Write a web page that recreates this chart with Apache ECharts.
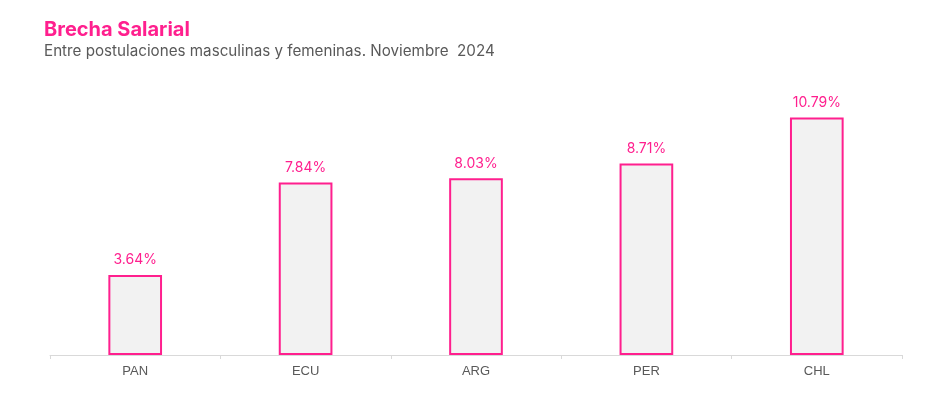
<!DOCTYPE html>
<html>
<head>
<meta charset="utf-8">
<script src="https://cdn.jsdelivr.net/npm/echarts@6/dist/echarts.min.js"></script>
<style>
  html, body { margin: 0; padding: 0; background: #fff; }
  #chart { width: 940px; height: 396px; }
</style>
</head>
<body>
<div id="chart"></div>
<script>
const paises = ["PAN", "ECU", "ARG", "PER", "CHL"];
const brecha = [3.64, 7.84, 8.03, 8.71, 10.79];

const rosa = "#ff1f8e";

const chart = echarts.init(document.getElementById("chart"));

const option = {
  backgroundColor: "#fff",
  title: {
    left: 39,
    top: 15,
    text: "Brecha Salarial",
    subtext: "Entre postulaciones masculinas y femeninas. Noviembre  2024",
    itemGap: 4,
    textStyle: {
      fontFamily: "Inter",
      fontWeight: "bold",
      fontSize: 20,
      color: rosa,
    },
    subtextStyle: {
      fontFamily: "Inter",
      fontSize: 15.2,
      color: "#595959",
    },
  },
  grid: {
    left: 50,
    right: 38,
    top: 91,
    bottom: 41,
  },
  xAxis: {
    type: "category",
    data: paises,
    axisLine: { lineStyle: { color: "#d9d9d9", width: 1 } },
    axisTick: { show: true, length: 4, lineStyle: { color: "#d9d9d9" } },
    axisLabel: {
      color: "#595959",
      fontFamily: "Liberation Sans",
      fontSize: 13,
      margin: 10,
    },
  },
  yAxis: {
    type: "value",
    min: 0,
    max: 12,
    show: false,
    splitLine: { show: false },
  },
  series: [
    {
      type: "bar",
      data: brecha,
      barWidth: "31.5%",
      itemStyle: {
        color: "#f2f2f2",
        borderColor: rosa,
        borderWidth: 2,
      },
      label: {
        show: true,
        position: "top",
        distance: 8,
        color: rosa,
        fontFamily: "Inter",
        fontSize: 14,
        formatter: (p) => p.value.toFixed(2) + "%",
      },
    },
  ],
};

chart.setOption(option);
</script>
</body>
</html>
